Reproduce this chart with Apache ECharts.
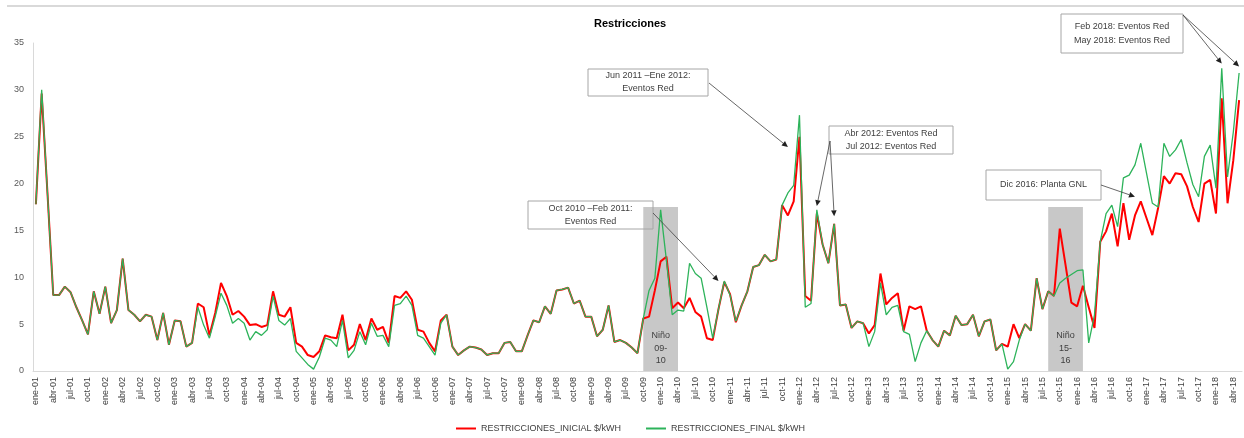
<!DOCTYPE html>
<html><head><meta charset="utf-8">
<script src="https://cdn.jsdelivr.net/npm/echarts@6/dist/echarts.min.js"></script>
<style>html,body{margin:0;padding:0;background:#fff}#c{width:1244px;height:438px}</style>
</head><body><div id="c"></div>
<script>
// ---------- data ----------
const MONTHS = ['ene','feb','mar','abr','may','jun','jul','ago','sep','oct','nov','dic'];
const YEARS = ['01','02','03','04','05','06','07','08','09','10','11','12','13','14','15','16','17','18'];
const LAST_YEAR_MONTHS = 5; // 2018: ene..may
const categories = [];
YEARS.forEach((y, yi) => {
  const n = yi === YEARS.length - 1 ? LAST_YEAR_MONTHS : 12;
  for (let m = 0; m < n; m++) categories.push(MONTHS[m] + '-' + y);
});

const INICIAL = [
17.8,29.6,19.0,8.1,8.1,9.0,8.4,6.8,5.4,3.9,8.5,6.1,
9.0,5.1,6.5,12.0,6.5,6.0,5.3,6.0,5.8,3.3,6.2,2.8,
5.4,5.3,2.6,3.0,7.2,6.8,3.8,6.2,9.4,8.0,6.0,6.4,
5.8,4.9,5.0,4.7,4.9,8.5,6.0,5.8,6.8,3.0,2.6,1.7,
1.5,2.1,3.8,3.6,3.5,6.0,2.2,2.8,5.0,3.3,5.6,4.4,
4.7,3.0,8.0,7.8,8.5,7.6,4.4,4.2,3.0,2.1,5.4,6.0,
2.6,1.7,2.2,2.6,2.5,2.3,1.7,1.9,1.9,3.0,3.1,2.1,
2.1,3.8,5.4,5.2,6.9,6.1,8.6,8.7,8.9,7.2,7.5,5.8,
5.8,3.7,4.4,7.0,3.1,3.3,3.0,2.5,1.9,5.6,5.8,8.6,
11.7,12.2,6.7,7.3,6.7,7.8,6.3,5.8,3.5,3.3,6.6,9.5,
8.2,5.2,7.0,8.5,11.1,11.3,12.4,11.7,11.9,17.7,16.6,18.1,
25.0,8.0,7.5,16.8,13.5,11.5,15.7,7.0,7.1,4.6,5.3,5.1,
4.0,4.9,10.4,7.1,7.8,8.3,4.3,6.9,6.6,6.9,4.3,3.3,
2.6,4.3,3.8,5.9,4.9,5.0,6.0,3.7,5.3,5.5,2.2,2.9,
2.6,5.0,3.5,5.0,4.3,9.9,6.6,8.5,8.0,15.2,11.3,7.3,
6.9,9.1,6.8,4.6,13.8,14.9,16.8,13.3,17.9,14.0,16.6,18.1,
16.3,14.5,17.4,20.8,20.0,21.1,21.0,19.7,17.5,15.9,20.0,20.4,
16.8,29.1,17.9,22.5,28.9
];
const FINAL = [
17.8,30.0,19.0,8.1,8.1,9.0,8.4,6.8,5.4,3.9,8.5,6.1,
9.0,5.1,6.5,12.0,6.5,6.0,5.3,6.0,5.8,3.3,6.2,2.8,
5.4,5.3,2.6,3.0,6.8,4.9,3.5,5.8,8.3,7.0,5.1,5.6,
5.1,3.3,4.2,3.8,4.4,8.0,5.4,4.9,5.6,2.1,1.4,0.7,
0.2,1.5,3.5,3.3,2.6,5.4,1.4,2.2,4.2,2.8,5.1,3.7,
3.8,2.6,7.0,7.2,8.0,7.0,3.8,3.5,2.6,1.7,5.1,6.0,
2.6,1.7,2.2,2.6,2.5,2.3,1.7,1.9,1.9,3.0,3.1,2.1,
2.1,3.8,5.4,5.2,6.9,6.1,8.6,8.7,8.9,7.2,7.5,5.8,
5.8,3.7,4.4,7.0,3.1,3.3,3.0,2.5,1.9,5.6,8.6,9.9,
17.2,11.8,6.0,6.5,6.4,11.5,10.4,9.9,6.8,3.5,6.6,9.6,
8.1,5.3,7.0,8.5,11.1,11.3,12.4,11.7,11.9,17.7,19.0,19.8,
27.3,6.8,7.2,17.2,13.5,11.5,15.7,7.0,7.1,4.6,5.3,5.1,
2.6,4.2,9.4,6.0,6.8,7.0,4.2,3.9,1.0,3.0,4.3,3.3,
2.6,4.3,3.8,5.9,4.9,5.0,6.0,3.7,5.3,5.5,2.2,2.9,
0.2,1.0,3.3,5.0,4.3,9.9,6.6,8.5,8.0,9.4,9.9,10.3,
10.7,10.8,3.0,6.0,13.8,16.8,17.7,15.4,20.6,20.9,22.0,24.3,
21.1,17.9,17.5,24.3,22.9,23.6,24.7,22.2,19.9,18.6,22.9,24.1,
19.5,32.3,20.7,25.5,31.8
];
const SERIES_NAMES = ['RESTRICCIONES_INICIAL $/kWH', 'RESTRICCIONES_FINAL $/kWH'];
const Y_MIN = 0, Y_MAX = 35, Y_STEP = 5;

// Niño shaded periods: [start category, end category, top value, label]
const NINO = [
  ['oct-09', 'abr-10', 17.5, 'Niño\n09-\n10'],
  ['ago-15', 'feb-16', 17.5, 'Niño\n15-\n16']
];
// Annotations: text, box [x,y,w,h] px, arrow start px, arrow tips [category index, value]
const ANNOTS = [
  {text:'Jun 2011 –Ene 2012:\nEventos Red', box:[588,69,120,27], from:[709,83], tips:[[130.3,23.9]], lh:13},
  {text:'Abr 2012: Eventos Red\nJul 2012: Eventos Red', box:[829,126,124,28], from:[830,141], tips:[[135.2,17.6],[138.1,16.5]], lh:13},
  {text:'Oct 2010 –Feb 2011:\nEventos Red', box:[528,201,125,28], from:[653,213], tips:[[118.1,9.6]], lh:13},
  {text:'Dic 2016: Planta GNL', box:[986,170,115,30], from:[1101,185], tips:[[190,18.6]], lh:13},
  {text:'Feb 2018: Eventos Red\nMay 2018: Eventos Red', box:[1061,14,122,39], from:[1183,15], tips:[[204.5,32.8],[207.6,32.5]], lh:14}
];

// ---------- chart ----------
const FONT = '"Liberation Sans", Arial, sans-serif';
const chart = echarts.init(document.getElementById('c'), null, {renderer:'canvas'});
const option = {
  animation: false,
  backgroundColor: '#fff',
  title: { text: 'Restricciones', left: 589, top: 13,
    textStyle: { fontSize: 11, fontWeight: 'bold', color: '#000', fontFamily: FONT } },
  legend: { left: 451, top: 419, itemWidth: 20, itemHeight: 2, itemGap: 25, icon: 'rect',
    textStyle: { fontSize: 9, color: '#404040', fontFamily: FONT },
    data: SERIES_NAMES },
  grid: { left: 33, right: 2, top: 43, bottom: 67 },
  xAxis: { type: 'category', data: categories, boundaryGap: true,
    axisLine: { lineStyle: { color: '#d9d9d9' } }, axisTick: { show: false },
    axisLabel: { interval: 2, rotate: 90, fontSize: 9, color: '#404040', margin: 6, fontFamily: FONT } },
  yAxis: { type: 'value', min: Y_MIN, max: Y_MAX, interval: Y_STEP,
    axisLine: { show: true, lineStyle: { color: '#d9d9d9' } }, axisTick: { show: false },
    splitLine: { show: false },
    axisLabel: { fontSize: 9, color: '#595959', margin: 9, fontFamily: FONT } },
  series: [
    { name: 'nino', type: 'line', data: [], symbol: 'none', z: 1, silent: true,
      markArea: { silent: true, itemStyle: { color: '#c8c8c8' },
        label: { position: 'insideBottom', distance: 4, fontSize: 9, lineHeight: 12.5, color: '#404040', fontFamily: FONT },
        data: NINO.map(n => [{ xAxis: n[0], yAxis: 0, name: n[3] }, { xAxis: n[1], yAxis: n[2] }]) } },
    { name: SERIES_NAMES[0], type: 'line', data: INICIAL, symbol: 'none', color: '#ff0000',
      lineStyle: { width: 2, color: '#ff0000' }, z: 3 },
    { name: SERIES_NAMES[1], type: 'line', data: FINAL, symbol: 'none', color: '#2db35a',
      lineStyle: { width: 1.3, color: '#2db35a' }, z: 4 }
  ]
};
chart.setOption(option);

// annotations
const g = [{ type: 'line', shape: { x1: 7, y1: 6, x2: 1244, y2: 6 }, style: { stroke: '#d9d9d9', lineWidth: 2 }, z: 0 }];
ANNOTS.forEach(a => {
  const [bx, by, bw, bh] = a.box;
  g.push({ type: 'rect', shape: { x: bx, y: by, width: bw, height: bh },
    style: { fill: 'rgba(255,255,255,0)', stroke: '#a6a6a6', lineWidth: 1 }, z: 10 });
  g.push({ type: 'text', x: bx + bw / 2, y: by + bh / 2, z: 10,
    style: { text: a.text, fill: '#404040', fontSize: 9, fontFamily: FONT, align: 'center', verticalAlign: 'middle', lineHeight: a.lh } });
  a.tips.forEach(t => {
    const p = chart.convertToPixel({ gridIndex: 0 }, t);
    if (!p) return;
    const [x1, y1] = a.from, [x2, y2] = p;
    const dx = x2 - x1, dy = y2 - y1, L = Math.hypot(dx, dy), ux = dx / L, uy = dy / L;
    const hl = 6, hw = 2.8;
    const bxp = x2 - ux * hl, byp = y2 - uy * hl;
    g.push({ type: 'line', shape: { x1, y1, x2: bxp, y2: byp }, style: { stroke: '#404040', lineWidth: 0.8 }, z: 20 });
    g.push({ type: 'polygon', shape: { points: [[x2, y2], [bxp - uy * hw, byp + ux * hw], [bxp + uy * hw, byp - ux * hw]] },
      style: { fill: '#202020' }, z: 20 });
  });
});
chart.setOption({ graphic: g });
</script>
</body></html>
